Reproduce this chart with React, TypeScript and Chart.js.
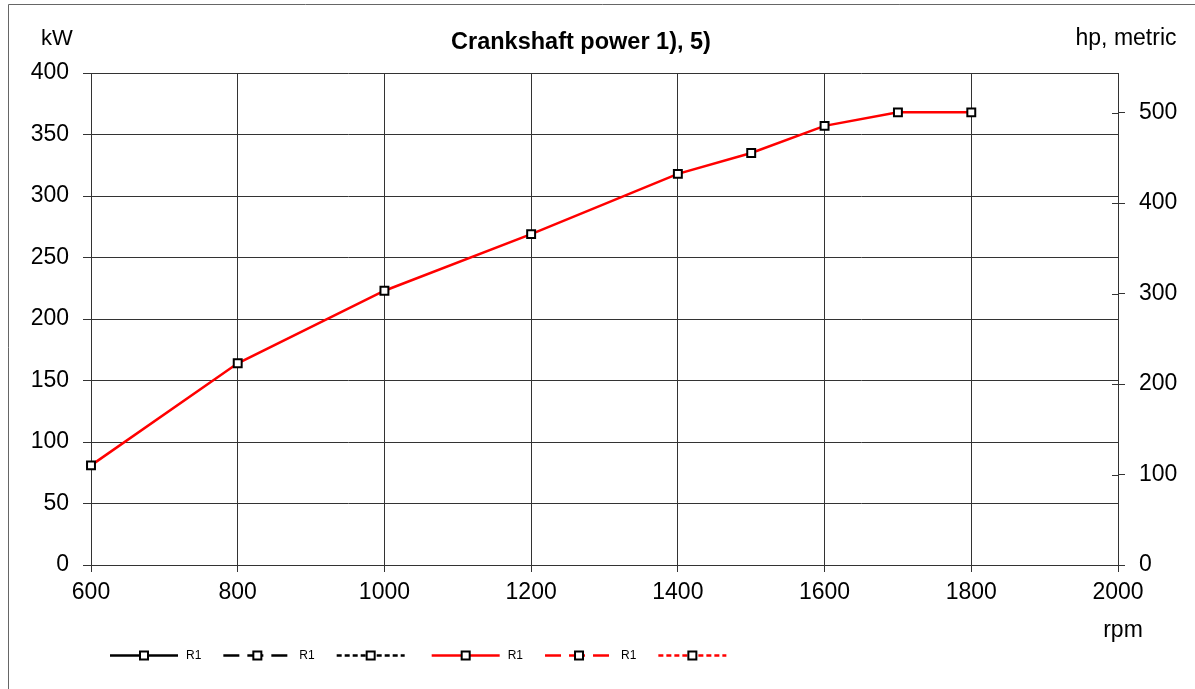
import React, { useEffect, useRef } from "react";
import { Chart, registerables } from "chart.js";

Chart.register(...registerables);

const rpm = [600, 800, 1000, 1200, 1400, 1500, 1600, 1700, 1800];
const powerKW = [81, 164, 223, 269, 318, 335, 357, 368, 368];
const KW_TO_HP = 1.35962;
const hpTicks = [0, 100, 200, 300, 400, 500];

const chartTitle = "Crankshaft power 1), 5)";
const leftUnit = "kW";
const rightUnit = "hp, metric";
const xUnit = "rpm";

const legendLabels = ["R1", "R1", "", "R1", "R1", ""];
const legendColors = ["#000000", "#000000", "#000000", "#ff0000", "#ff0000", "#ff0000"];
const legendDashes: number[][] = [[], [16, 8], [5, 3], [], [16, 8], [5, 3]];

const FONT = "'Liberation Sans', Arial, sans-serif";

const decorPlugin = {
  id: "decor",
  afterDraw(chart: any) {
    const ctx = chart.ctx as CanvasRenderingContext2D;
    const area = chart.chartArea;
    ctx.save();
    ctx.strokeStyle = "#666";
    ctx.lineWidth = 1;
    ctx.beginPath();
    ctx.moveTo(8.5, 700);
    ctx.lineTo(8.5, 4.5);
    ctx.lineTo(1200, 4.5);
    ctx.stroke();

    const y1 = chart.scales.y1;
    ctx.strokeStyle = "#333";
    ctx.beginPath();
    y1.ticks.forEach((t: any) => {
      const py = Math.round(y1.getPixelForValue(t.value)) + 0.5;
      ctx.moveTo(area.right - 6, py);
      ctx.lineTo(area.right, py);
    });
    ctx.stroke();

    ctx.fillStyle = "#000";
    ctx.textBaseline = "alphabetic";
    ctx.font = `bold 23.5px ${FONT}`;
    ctx.textAlign = "center";
    ctx.fillText(chartTitle, 581, 49);
    ctx.font = `22px ${FONT}`;
    ctx.fillText(leftUnit, 57, 45);
    ctx.font = `23px ${FONT}`;
    ctx.fillText(rightUnit, 1126, 45);
    ctx.fillText(xUnit, 1123, 637);

    const ly = 655.5;
    let x = 110;
    ctx.font = `12px ${FONT}`;
    ctx.textAlign = "left";
    ctx.textBaseline = "middle";
    legendLabels.forEach((lab, i) => {
      const w = 68;
      ctx.strokeStyle = legendColors[i];
      ctx.lineWidth = 2.5;
      ctx.setLineDash(legendDashes[i]);
      ctx.beginPath();
      ctx.moveTo(x, ly);
      ctx.lineTo(x + w, ly);
      ctx.stroke();
      ctx.setLineDash([]);
      const mx = x + w / 2;
      ctx.fillStyle = "#fff";
      ctx.fillRect(mx - 4, ly - 4, 8, 8);
      ctx.strokeStyle = "#000";
      ctx.lineWidth = 2;
      ctx.strokeRect(mx - 4, ly - 4, 8, 8);
      ctx.fillStyle = "#000";
      if (lab) {
        ctx.fillText(lab, x + w + 8, ly);
        x += w + 8 + ctx.measureText(lab).width + 22;
      } else {
        x += w + 27;
      }
    });
    ctx.restore();
  },
};

export default function App() {
  const ref = useRef<HTMLCanvasElement>(null);
  useEffect(() => {
    if (!ref.current) return;
    const tickFont = { family: FONT, size: 23 };
    const chart = new Chart(ref.current, {
      type: "line",
      data: {
        datasets: [
          {
            label: "R1",
            data: rpm.map((r, i) => ({ x: r, y: powerKW[i] })),
            borderColor: "#ff0000",
            borderWidth: 2.5,
            pointStyle: "rect",
            pointRadius: 5.6,
            pointBorderColor: "#000",
            pointBorderWidth: 2,
            pointBackgroundColor: "#fff",
            tension: 0,
            clip: false as any,
          },
        ],
      },
      options: {
        animation: false,
        responsive: false,
        layout: { padding: { top: 73, left: 0, right: 0, bottom: 0 } },
        plugins: { legend: { display: false }, tooltip: { enabled: false }, title: { display: false } },
        scales: {
          x: {
            type: "linear",
            min: 600,
            max: 2000,
            ticks: {
              stepSize: 200,
              font: tickFont,
              color: "#000",
              padding: 7,
              maxRotation: 0,
              callback: (v: any) => String(v),
            },
            grid: { color: "#333", lineWidth: 1, tickLength: 7 },
            border: { color: "#333" },
            afterFit: (s: any) => { s.height = 124; },
          },
          y: {
            position: "left",
            min: 0,
            max: 400,
            ticks: { stepSize: 50, font: tickFont, color: "#000", padding: 14 },
            grid: { color: "#333", lineWidth: 1, tickLength: 8 },
            border: { color: "#333" },
            afterFit: (s: any) => { s.width = 91; },
          },
          y1: {
            position: "right",
            min: 0,
            max: 400 * KW_TO_HP,
            ticks: { font: tickFont, color: "#000", padding: 14, callback: (v: any) => String(v) },
            afterBuildTicks: (s: any) => { s.ticks = hpTicks.map((v) => ({ value: v })); },
            grid: { drawOnChartArea: false, color: "#333", lineWidth: 1, tickLength: 7 },
            border: { color: "#333" },
            afterFit: (s: any) => { s.width = 77; },
          },
        },
      } as any,
      plugins: [decorPlugin],
    });
    return () => chart.destroy();
  }, []);
  return (
    <canvas
      ref={ref}
      width={1195}
      height={689}
      style={{ position: "absolute", left: 0, top: 0, width: 1195, height: 689, background: "#fff" }}
    />
  );
}
